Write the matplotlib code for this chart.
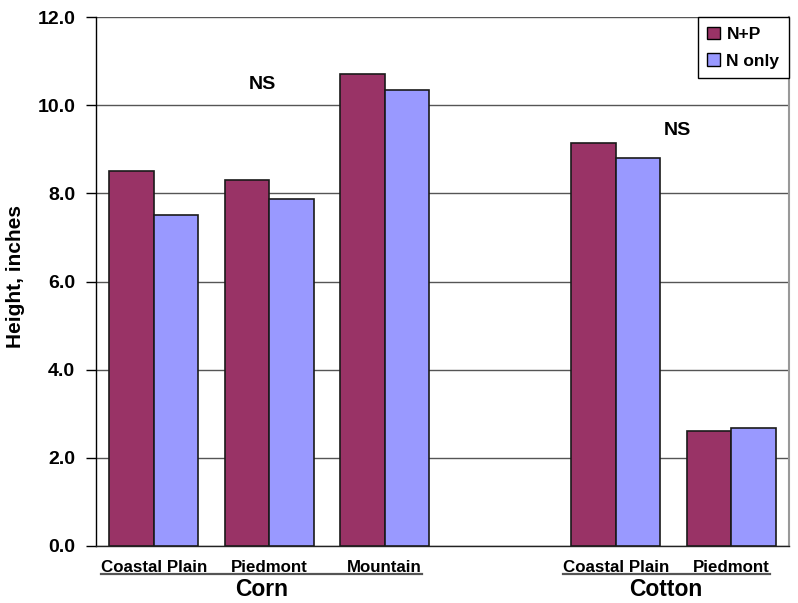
import numpy as np
import matplotlib
matplotlib.use("Agg")
import matplotlib.pyplot as plt
from matplotlib.transforms import blended_transform_factory
from matplotlib.lines import Line2D
from matplotlib.patches import Patch

# Plant height by region, two crops; the fourth slot is an empty spacer
regions = ["Coastal Plain", "Piedmont", "Mountain", "", "Coastal Plain", "Piedmont"]
crops = ["Corn", "Cotton"]
crop_slots = [[0, 1, 2], [4, 5]]
n_plus_p = [8.5, 8.3, 10.7, np.nan, 9.14, 2.61]
n_only = [7.5, 7.88, 10.34, np.nan, 8.81, 2.67]
series_names = ["N+P", "N only"]
yticks = [0, 2, 4, 6, 8, 10, 12]
ns_notes = [(0.94, 10.48, "NS"), (4.53, 9.42, "NS")]

COL_NP = "#993366"
COL_N = "#9999FF"
FONT = "Liberation Sans"

plt.rcParams["font.family"] = [FONT, "DejaVu Sans"]
plt.rcParams["font.weight"] = "bold"

fig = plt.figure(figsize=(7.98, 6.03), dpi=100)
ax = fig.add_axes([96 / 798, 1 - 546 / 603, (789 - 96) / 798, (546 - 17) / 603])

x = np.arange(len(regions))
w = 0.387
ax.bar(x - w / 2, n_plus_p, width=w, color=COL_NP, edgecolor="#1a1a1a", linewidth=1.2, zorder=3)
ax.bar(x + w / 2, n_only, width=w, color=COL_N, edgecolor="#1a1a1a", linewidth=1.2, zorder=3)

ax.set_xlim(-0.5, len(regions) - 0.5)
ax.set_ylim(0, 12)
ax.set_yticks(yticks)
ax.set_yticklabels([f"{v:.1f}" for v in yticks], fontsize=14, fontweight="bold")
ax.set_xticks([])
ax.tick_params(axis="y", direction="out", length=7, width=1, pad=8, colors="black")
ax.yaxis.grid(True, color="#555555", linewidth=1.0, zorder=0)
ax.set_axisbelow(True)

ax.spines["top"].set_visible(False)
ax.spines["right"].set_color("#999999")
ax.spines["right"].set_linewidth(1.5)
ax.spines["left"].set_color("black")
ax.spines["bottom"].set_color("#222222")
ax.spines["left"].set_linewidth(1.0)
ax.spines["bottom"].set_linewidth(1.0)

ax.set_ylabel("Height, inches", fontsize=15, fontweight="bold")
ax.yaxis.set_label_coords(-0.1025, 0.51)

for xi, yi, txt in ns_notes:
    ax.text(xi, yi, txt, ha="center", va="center", fontsize=14, fontweight="bold", zorder=4)

# Region labels, underlined as one run per crop, with the crop name below
trans = blended_transform_factory(ax.transData, fig.transFigure)
fig.canvas.draw()
renderer = fig.canvas.get_renderer()
for crop, slots in zip(crops, crop_slots):
    texts = []
    for s in slots:
        t = ax.text(s, 1 - 567 / 603, regions[s], transform=trans, ha="center", va="center",
                    fontsize=12.2, fontweight="bold")
        texts.append(t)
    fig.canvas.draw()
    boxes = [t.get_window_extent(renderer) for t in texts]
    x0 = min(b.x0 for b in boxes)
    x1 = max(b.x1 for b in boxes)
    yline = 1 - 574 / 603
    fig.add_artist(Line2D([x0 / fig.bbox.width, x1 / fig.bbox.width], [yline, yline],
                          transform=fig.transFigure, color="#555555", linewidth=1.6))
    xm = (x0 + x1) / 2 / fig.bbox.width
    fig.text(xm, 1 - 590 / 603, crop, ha="center", va="center", fontsize=16.5, fontweight="bold")

handles = [Patch(facecolor=COL_NP, edgecolor="black", linewidth=1.0),
           Patch(facecolor=COL_N, edgecolor="black", linewidth=1.0)]
leg = ax.legend(handles, series_names, loc="upper right", bbox_to_anchor=(1.0, 1.0),
                frameon=True, fancybox=False, framealpha=1, edgecolor="black",
                prop={"family": FONT, "weight": "bold", "size": 12.5},
                handlelength=0.75, handleheight=0.75, handletextpad=0.35,
                borderpad=0.55, labelspacing=0.65, borderaxespad=0.0)
leg.get_frame().set_linewidth(1.0)
leg.set_zorder(5)

fig.savefig("out.png", dpi=100)
